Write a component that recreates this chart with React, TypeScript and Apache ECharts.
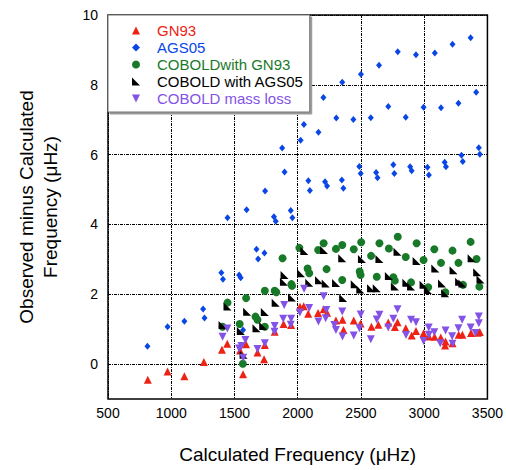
import React, { useEffect, useRef } from "react";
import * as echarts from "echarts";

const xTicks = [500, 1000, 1500, 2000, 2500, 3000, 3500];
const yTicks = [0, 2, 4, 6, 8, 10];

const seriesNames = ["GN93", "AGS05", "COBOLDwith GN93", "COBOLD with AGS05", "COBOLD mass loss"];
const seriesColors = ["#ee2214", "#0a46e6", "#187a28", "#000000", "#8352e6"];

const gn93: number[][] = [
  [815, -0.45], [971, -0.21], [1104, -0.35], [1258, 0.06], [1401, 0.41], [1443, 0.58], [1568, -0.29],
  [1544, 0.39], [1591, 0.57], [1682, 0.33], [1734, 0.14], [1740, 0.55], [1818, 0.93], [1888, 1.15],
  [1948, 1.12], [2018, 1.64], [2047, 1.66], [2083, 1.44], [2161, 1.46], [2205, 1.57], [2232, 1.47],
  [2302, 1.25], [2354, 1.27], [2362, 0.98], [2443, 1.25], [2497, 1.16], [2583, 1.07], [2638, 1.13],
  [2716, 1.19], [2768, 1.06], [2789, 1.2], [2854, 1.03], [2901, 0.82], [2935, 0.95], [2995, 0.88],
  [3037, 0.79], [3082, 0.78], [3131, 0.76], [3165, 0.53], [3169, 0.65], [3224, 0.6], [3273, 0.84],
  [3302, 0.84], [3370, 0.89], [3423, 0.9], [3440, 0.92],
];

const ags05: number[][] = [
  [812, 0.51], [971, 1.07], [1104, 1.23], [1252, 1.58], [1263, 1.32], [1396, 2.62], [1409, 2.43],
  [1537, 2.55], [1549, 2.47], [1445, 4.19], [1568, 0.98], [1596, 4.42], [1674, 3.29], [1687, 3.01],
  [1737, 3.18], [1742, 4.96], [1812, 4.22], [1826, 4.09], [1877, 6.19], [1896, 5.5], [1945, 4.4],
  [1958, 4.19], [2023, 6.41], [2049, 6.86], [2084, 5.25], [2096, 4.97], [2164, 6.64], [2203, 7.64],
  [2216, 5.22], [2232, 5.1], [2305, 7.05], [2349, 5.27], [2361, 5.04], [2352, 8.07], [2440, 7.01],
  [2487, 5.66], [2498, 5.46], [2500, 8.3], [2578, 7.06], [2620, 5.49], [2631, 5.34], [2643, 8.56],
  [2716, 7.38], [2756, 5.71], [2764, 5.46], [2791, 8.95], [2854, 7.07], [2889, 5.65], [2901, 5.54],
  [2935, 8.86], [2995, 7.36], [3026, 5.64], [3037, 5.42], [3084, 8.91], [3133, 7.34], [3162, 5.78],
  [3172, 5.65], [3224, 9.16], [3271, 7.47], [3295, 5.98], [3305, 5.8], [3367, 9.35], [3411, 7.79],
  [3432, 6.2], [3440, 6.01],
];

const coboldGn93: number[][] = [
  [1406, 1.07], [1445, 1.76], [1541, 1.15], [1566, 0.01], [1592, 1.89], [1666, 1.36], [1682, 1.27],
  [1740, 1.07], [1740, 2.1], [1818, 2.1], [1831, 2.06], [1880, 3.03], [1950, 2.29], [1955, 2.24],
  [2013, 3.33], [2078, 2.74], [2091, 2.6], [2162, 3.27], [2205, 3.46], [2228, 2.72], [2302, 3.3],
  [2352, 3.41], [2352, 2.41], [2443, 3.29], [2490, 2.65], [2497, 2.55], [2502, 3.49], [2580, 3.1],
  [2625, 2.5], [2646, 3.46], [2721, 3.31], [2756, 2.49], [2768, 2.39], [2791, 3.65], [2854, 3.07],
  [2896, 2.34], [2940, 3.46], [2995, 2.98], [3032, 2.2], [3080, 3.29], [3133, 2.9], [3167, 2.06],
  [3224, 3.25], [3271, 2.9], [3307, 2.27], [3367, 3.5], [3414, 3.01], [3436, 2.22],
];

const coboldAgs05: number[][] = [
  [1406, 1.12], [1445, 1.65], [1550, 0.95], [1572, 0.27], [1600, 1.5], [1674, 1.03], [1727, 1.09],
  [1740, 1.49], [1826, 1.76], [1891, 2.36], [1896, 2.55], [1955, 1.91], [2026, 2.6], [2052, 3.24],
  [2091, 2.33], [2169, 2.4], [2208, 3.27], [2221, 2.31], [2303, 2.32], [2352, 3.03], [2359, 1.89],
  [2451, 2.29], [2495, 2.14], [2508, 3.01], [2580, 2.17], [2625, 2.17], [2646, 3.01], [2721, 2.52],
  [2768, 2.22], [2789, 3.22], [2859, 2.33], [2896, 2.22], [2940, 2.95], [2995, 2.27], [3029, 2.12],
  [3088, 2.74], [3141, 2.31], [3166, 2.03], [3232, 2.69], [3276, 2.36], [3302, 2.31], [3375, 3.03],
  [3419, 2.63], [3445, 2.42],
];

const coboldMassLoss: number[][] = [
  [1406, 0.78], [1444, 1.02], [1537, 0.45], [1555, 0.52], [1569, 0.18], [1586, 0.69], [1682, 0.43],
  [1740, 0.6], [1818, 1.09], [1816, 0.93], [1885, 1.3], [1893, 1.69], [1948, 1.3], [1945, 1.13],
  [2017, 1.48], [2050, 2.16], [2090, 1.61], [2164, 1.22], [2205, 1.94], [2226, 1.55], [2221, 1.31],
  [2302, 0.98], [2290, 1.12], [2352, 1.51], [2354, 0.79], [2443, 0.82], [2488, 1.03], [2498, 1.42],
  [2578, 0.71], [2625, 1.28], [2646, 1.41], [2716, 1.05], [2756, 1.3], [2789, 1.57], [2856, 0.83],
  [2896, 1.27], [2935, 1.2], [2995, 0.66], [3036, 1.05], [3037, 0.84], [3080, 0.91], [3127, 0.6],
  [3169, 0.96], [3221, 0.8], [3224, 0.58], [3271, 1.03], [3300, 1.27], [3367, 1.05], [3406, 0.89],
  [3432, 1.36], [3432, 1.17],
];

const seriesData = [gn93, ags05, coboldGn93, coboldAgs05, coboldMassLoss];
const seriesSymbols = ["triangle", "diamond", "circle", "path://M0,0L0,10L10,10Z", "path://M0,0L10,0L5,10Z"];
const seriesSizes: (number | number[])[] = [8, [6, 7], 8, 8, 8];

const FONT = "'Liberation Sans', Arial, sans-serif";

export default function App() {
  const ref = useRef<HTMLDivElement>(null);

  useEffect(() => {
    if (!ref.current) return;
    const chart = echarts.init(ref.current, null, { renderer: "svg" });
    const gridLine = { show: true, lineStyle: { color: "#000", width: 1, type: [3, 1, 1, 1] } };
    chart.setOption({
      animation: false,
      backgroundColor: "#fff",
      textStyle: { fontFamily: FONT },
      grid: {
        left: 108,
        right: 14,
        top: 15,
        bottom: 71,
        show: true,
        borderColor: "#000",
        borderWidth: 1.5,
        backgroundColor: "transparent",
      },
      xAxis: {
        type: "value",
        min: 500,
        max: 3500,
        interval: 500,
        name: "Calculated Frequency (μHz)",
        nameLocation: "middle",
        nameGap: 46,
        nameTextStyle: { fontSize: 19, color: "#000", fontFamily: FONT },
        axisLine: { show: false },
        axisTick: { show: false },
        axisLabel: {
          fontSize: 14,
          color: "#000",
          margin: 7,
          fontFamily: FONT,
          customValues: xTicks,
          alignMinLabel: "center",
          alignMaxLabel: "center",
          hideOverlap: false,
          formatter: (v: number) => String(v),
        },
        splitLine: gridLine,
      },
      yAxis: {
        type: "value",
        min: -1,
        max: 10,
        name: "Observed minus Calculated\nFrequency (μHz)",
        nameLocation: "middle",
        nameGap: 46,
        nameRotate: 90,
        nameTextStyle: { fontSize: 19, color: "#000", lineHeight: 24, fontFamily: FONT },
        axisLine: { show: false },
        axisTick: { show: false, customValues: yTicks },
        axisLabel: {
          fontSize: 14,
          color: "#000",
          margin: 10,
          fontFamily: FONT,
          customValues: yTicks,
          formatter: (v: number) => String(v),
        },
        splitLine: gridLine,
      },
      legend: {
        left: 108,
        top: 15,
        orient: "vertical",
        selectedMode: false,
        itemWidth: 8,
        itemHeight: 8,
        itemGap: 0,
        padding: [7, 6, 5, 24],
        backgroundColor: "#fff",
        borderColor: "#777",
        borderWidth: 1,
        shadowColor: "#999",
        shadowOffsetX: 2,
        shadowOffsetY: 2,
        shadowBlur: 0,
        textStyle: { fontSize: 15, lineHeight: 17, fontFamily: FONT, padding: [0, 0, 0, 12] },
        data: seriesNames.map((n, i) => ({
          name: n,
          textStyle: { color: seriesColors[i] },
          itemStyle: { color: seriesColors[i] },
        })),
      },
      series: seriesNames.map((n, i) => ({
        name: n,
        type: "scatter",
        data: seriesData[i],
        symbol: seriesSymbols[i],
        symbolSize: seriesSizes[i],
        itemStyle: { color: seriesColors[i], opacity: 1 },
        emphasis: { disabled: true },
      })),
    });
    return () => chart.dispose();
  }, []);

  return <div ref={ref} style={{ position: "fixed", left: 0, top: 0, width: 506, height: 470 }} />;
}
